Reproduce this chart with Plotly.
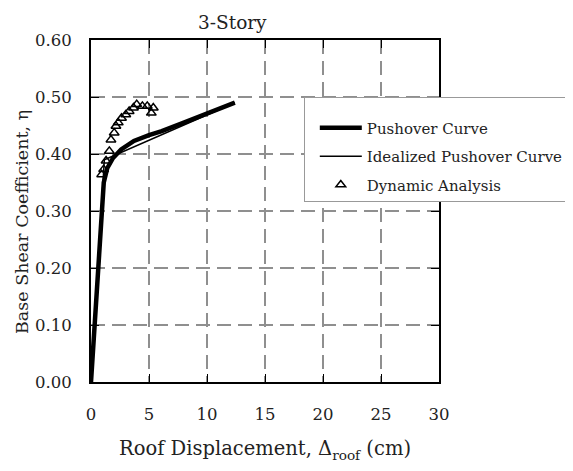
import plotly.graph_objects as go

# Pushover curve (cm, base shear coefficient)
push_x = [0, 0.3, 0.6, 0.9, 1.1, 1.4, 1.9, 2.6, 3.7, 5.0, 6.1, 8.0, 10.0, 12.4]
push_y = [0, 0.10, 0.20, 0.30, 0.35, 0.375, 0.393, 0.408, 0.423, 0.433, 0.44, 0.455, 0.47, 0.49]

# Idealized (bilinear) pushover curve
ideal_x = [0, 1.15, 12.4]
ideal_y = [0, 0.39, 0.49]

# Dynamic analysis points
dyn_x = [0.92, 1.09, 1.30, 1.58, 1.72, 2.0, 2.15, 2.35, 2.63, 3.0, 3.29, 3.66, 3.94, 4.43, 4.85, 5.2, 5.37]
dyn_y = [0.364, 0.373, 0.388, 0.405, 0.425, 0.437, 0.449, 0.455, 0.463, 0.469, 0.475, 0.481, 0.487, 0.484, 0.484, 0.472, 0.481]

x_ticks = [0, 5, 10, 15, 20, 25, 30]
y_ticks = [0.0, 0.1, 0.2, 0.3, 0.4, 0.5, 0.6]

FONT = "DejaVu Serif"
TXT = "#222222"

fig = go.Figure()
fig.add_trace(go.Scatter(x=push_x, y=push_y, mode="lines", name="Pushover Curve",
                         legendgroup="a", line=dict(color="black", width=4.5)))
fig.add_trace(go.Scatter(x=ideal_x, y=ideal_y, mode="lines", name="Idealized Pushover Curve",
                         legendgroup="b", line=dict(color="black", width=1.5)))
fig.add_trace(go.Scatter(x=dyn_x, y=dyn_y, mode="markers", name="Dynamic Analysis",
                         legendgroup="c",
                         marker=dict(symbol="triangle-up-open", size=8.5, color="black",
                                     line=dict(width=1.5, color="black"))))

axis_common = dict(
    showline=True, linecolor="black", linewidth=2, mirror="ticks",
    ticks="inside", ticklen=8, tickwidth=1, tickcolor="black",
    showgrid=True, gridcolor="#8f8f8f", gridwidth=1.5, griddash="14px,7px",
    zeroline=False, tickfont=dict(family=FONT, size=16.5, color=TXT),
)

fig.update_xaxes(range=[0, 30], tickvals=x_ticks, ticktext=[str(v) for v in x_ticks],
                 ticklabelstandoff=16,
                 title=dict(text="Roof Displacement, Δ<sub>roof</sub> (cm)",
                            font=dict(family=FONT, size=19.5, color=TXT), standoff=19),
                 **axis_common)
fig.update_yaxes(range=[0, 0.6], tickvals=y_ticks, tickformat=".2f",
                 ticklabelstandoff=14,
                 **axis_common)

# y-axis title (placed as an annotation so its vertical centre matches)
fig.add_annotation(text="Base Shear Coefficient, η", xref="paper", yref="paper",
                   x=-0.198, y=0.468, textangle=-90, showarrow=False,
                   xanchor="center", yanchor="middle",
                   font=dict(family=FONT, size=17.5, color=TXT))

fig.add_annotation(text="3-Story", xref="paper", yref="paper", x=0.407, y=1.0,
                   yshift=18, yanchor="middle", showarrow=False,
                   font=dict(family=FONT, size=18.5, color=TXT))

# page body has an 8px margin, so the figure is shrunk by that amount
fig.update_layout(
    width=565, height=463,
    margin=dict(l=83, r=134, t=32, b=89, autoexpand=False),
    paper_bgcolor="white", plot_bgcolor="white",
    showlegend=True,
    legend=dict(x=0.6115, y=0.832, xanchor="left", yanchor="top",
                bgcolor="white", bordercolor="#999999", borderwidth=1,
                font=dict(family=FONT, size=15, color=TXT),
                title=dict(text=" ", font=dict(size=10)),
                tracegroupgap=6, itemwidth=42, indentation=10),
)

fig.write_html("out.html")
